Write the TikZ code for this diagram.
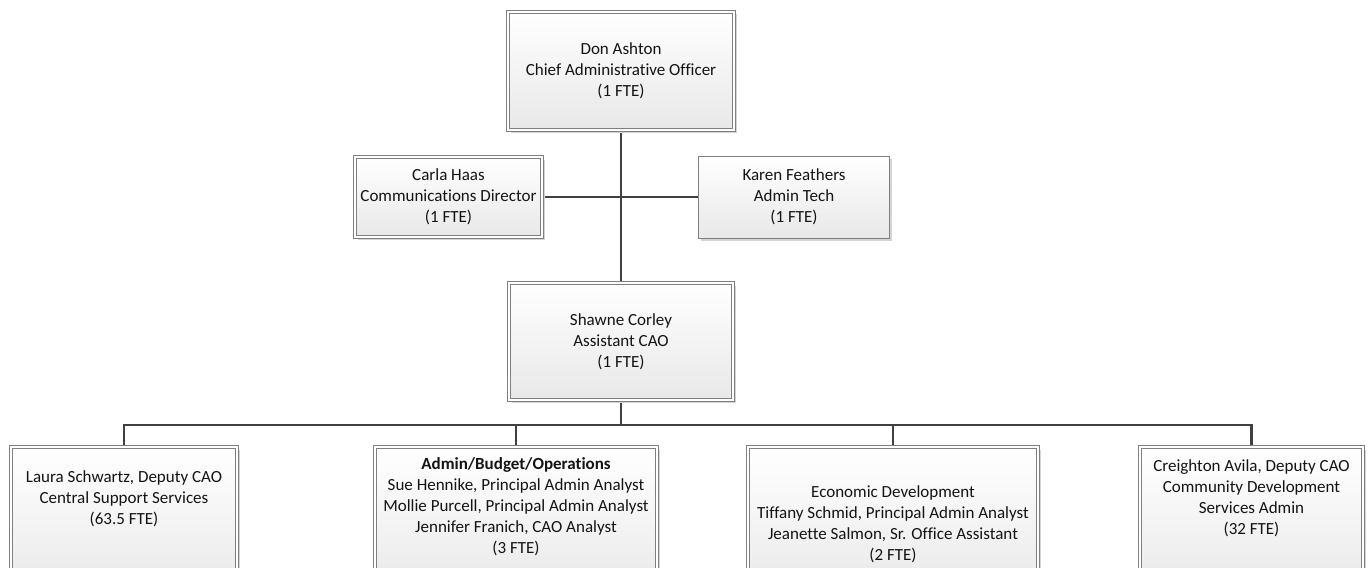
\documentclass[tikz,border=0pt]{standalone}
\usepackage{fontspec}
\setmainfont{Carlito}[Ligatures=NoCommon]
\usetikzlibrary{shadows,backgrounds}
\definecolor{bordergray}{HTML}{7F7F7F}
\definecolor{fillgray}{HTML}{E8E8E8}
\definecolor{shadowgray}{HTML}{D4D4D4}
\definecolor{linecol}{HTML}{404040}
\definecolor{textcol}{HTML}{141414}
\newcommand{\lblfont}{\fontsize{17}{21}\selectfont}
\tikzset{
  orgbox/.style={rectangle, draw=bordergray, line width=0.9pt, double=white, double distance=1.6pt,
    top color=white, bottom color=fillgray,
    drop shadow={shadow xshift=2.5pt, shadow yshift=-2.5pt, fill=shadowgray, opacity=1},
    inner sep=0pt, font=\lblfont, align=center, text=textcol},
  singlebox/.style={rectangle, draw=bordergray, line width=1pt,
    top color=white, bottom color=fillgray,
    drop shadow={shadow xshift=2.5pt, shadow yshift=-2.5pt, fill=shadowgray, opacity=1},
    inner sep=0pt, font=\lblfont, align=center, text=textcol},
  lbl/.style={inner sep=0pt, font=\lblfont, align=center, text=textcol, anchor=north},
  conn/.style={draw=linecol, line width=2.4pt}
}
\begin{document}
\begin{tikzpicture}[x=1pt,y=-1pt]
\useasboundingbox (0,0) rectangle (1372,567);
\clip (0,0) rectangle (1372,567);

% top level
\node[orgbox, minimum width=226pt, minimum height=118pt] (ceo) at (621,71)
  {Don Ashton\\Chief Administrative Officer\\(1 FTE)};
\node[orgbox, minimum width=187pt, minimum height=80pt] (carla) at (448.5,197)
  {Carla Haas\\Communications Director\\(1 FTE)};
\node[singlebox, minimum width=191pt, minimum height=82pt] (karen) at (794,197)
  {Karen Feathers\\Admin Tech\\(1 FTE)};
\node[orgbox, minimum width=224pt, minimum height=117pt] (shawne) at (621,341.5)
  {Shawne Corley\\Assistant CAO\\(1 FTE)};

% bottom boxes (extend past the lower edge)
\node[orgbox, minimum width=226pt, minimum height=153pt] (b1) at (124,523.5) {};
\node[orgbox, minimum width=282pt, minimum height=153pt] (b2) at (516,523.5) {};
\node[orgbox, minimum width=290pt, minimum height=153pt] (b3) at (893,523.5) {};
\node[orgbox, minimum width=223pt, minimum height=153pt] (b4) at (1251.5,523.5) {};

\node[lbl] (b1t) at (124,467.3)
  {\strut Laura Schwartz, Deputy CAO\\Central Support Services\\(63.5 FTE)};
\node[lbl] (b2t) at (516,454.8)
  {\strut\textbf{Admin/Budget/Operations}\\Sue Hennike, Principal Admin Analyst\\Mollie Purcell, Principal Admin Analyst\\Jennifer Franich, CAO Analyst\\(3 FTE)};
\node[lbl] (b3t) at (893,482.3)
  {\strut Economic Development\\Tiffany Schmid, Principal Admin Analyst\\Jeanette Salmon, Sr. Office Assistant\\(2 FTE)};
\node[lbl] (b4t) at (1251.5,456.3)
  {\strut Creighton Avila, Deputy CAO\\Community Development\\Services Admin\\(32 FTE)};

\coordinate (busy) at (0,425);

\begin{pgfonlayer}{background}
\draw[conn] (ceo.south) -- (shawne.north);
\draw[conn] (carla.east) -- (carla.east -| karen.west);
\draw[conn] (shawne.south) -- (shawne.south |- busy);
\draw[conn] (b1.north) -- (b1.north |- busy) -- (b4.north |- busy) -- (b4.north);
\draw[conn] (b2.north) -- (b2.north |- busy);
\draw[conn] (b3.north) -- (b3.north |- busy);
\end{pgfonlayer}
\end{tikzpicture}
\end{document}
